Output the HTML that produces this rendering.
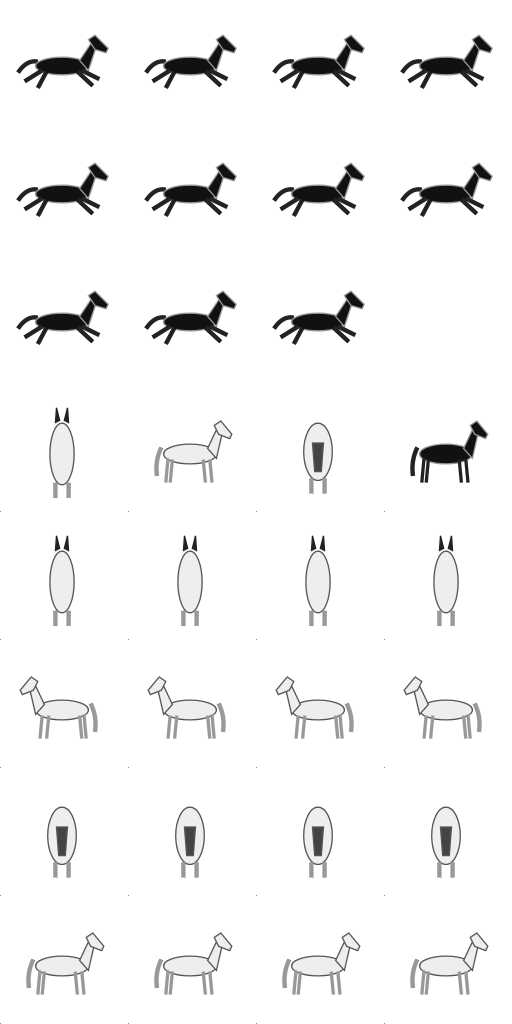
<!DOCTYPE html>
<html><head><meta charset="utf-8"><style>
html,body{margin:0;padding:0;background:#fff;width:512px;height:1024px;overflow:hidden}
</style></head><body>
<svg width="512" height="1024" viewBox="0 0 512 1024">
<defs>
<g id="gallop">
  <path d="M-40,6 Q-32,-6 -22,-4" stroke="currentColor" stroke-width="4" fill="none"/>
  <ellipse cx="0" cy="0" rx="24" ry="8"/>
  <path d="M16,-5 L26,-20 L32,-20 L24,4 Z"/>
  <path d="M24,-24 L30,-28 L42,-16 L40,-12 L30,-15 Z"/>
  <path d="M18,4 L34,12 M14,5 L28,18 M-18,4 L-34,14 M-14,5 L-22,20" stroke="currentColor" stroke-width="4" fill="none"/>
</g>
<g id="stand">
  <path d="M-26,-6 Q-32,6 -30,20" stroke="currentColor" stroke-width="4" fill="none"/>
  <ellipse cx="0" cy="0" rx="24" ry="9"/>
  <path d="M16,-5 L24,-22 L30,-22 L24,4 Z"/>
  <path d="M22,-26 L28,-30 L38,-18 L36,-14 L26,-18 Z"/>
  <path d="M18,5 L20,26 M12,5 L14,26 M-16,5 L-18,26 M-20,4 L-22,26" stroke="currentColor" stroke-width="3" fill="none"/>
</g>
<g id="back">
  <ellipse cx="0" cy="0" rx="11" ry="28"/>
  <path d="M-6,-28 L-5,-42 L-2,-30 M6,-28 L5,-42 L2,-30" fill="#222" stroke="#222"/>
  <path d="M-6,26 L-6,40 M6,26 L6,40" stroke="currentColor" stroke-width="4"/>
</g>
<g id="front">
  <ellipse cx="0" cy="-2" rx="13" ry="26"/>
  <path d="M-5,-10 L5,-10 L3,16 L-3,16 Z" fill="#444"/>
  <path d="M-6,22 L-6,36 M6,22 L6,36" stroke="currentColor" stroke-width="4"/>
</g>
</defs>
<g id="sprites"></g>
</svg>
<script>
const rows = [
 ['gallop-b','gallop-b','gallop-b','gallop-b'],
 ['gallop-b','gallop-b','gallop-b','gallop-b'],
 ['gallop-b','gallop-b','gallop-b',''],
 ['back-w','stand-w','front-w','stand-b'],
 ['back-w','back-w','back-w','back-w'],
 ['stand-wl','stand-wl','stand-wl','stand-wl'],
 ['front-w','front-w','front-w','front-w'],
 ['stand-w','stand-w','stand-w','stand-w']
];
const ns='http://www.w3.org/2000/svg';
const root=document.getElementById('sprites');
rows.forEach((r,ri)=>r.forEach((k,ci)=>{
  if(!k)return;
  const cx=ci*128+62, cy=ri*128+(ri<3?66:70);
  const u=document.createElementNS(ns,'use');
  const parts=k.split('-');
  const ref=parts[0], black=parts[1][0]==='b', flip=parts[1]==='wl';
  u.setAttribute('href','#'+ref);
  u.setAttribute('transform',`translate(${cx},${cy})`+(flip?' scale(-1.1,1.1)':' scale(1.1,1.1)'));
  u.setAttribute('fill',black?'#111':'#eeeeee');
  u.setAttribute('stroke',black?'#999':'#555');
  u.setAttribute('stroke-width','1.2');
  u.setAttribute('color',black?'#222':'#999');
  
  
  root.appendChild(u);
  if(ri>=3){
    const d=document.createElementNS(ns,'rect');
    d.setAttribute('x',ci*128);d.setAttribute('y',ri*128+127);
    d.setAttribute('width',1);d.setAttribute('height',1);d.setAttribute('fill','#888');
    
    
    root.appendChild(d);
  }
}));
</script>
</body></html>
